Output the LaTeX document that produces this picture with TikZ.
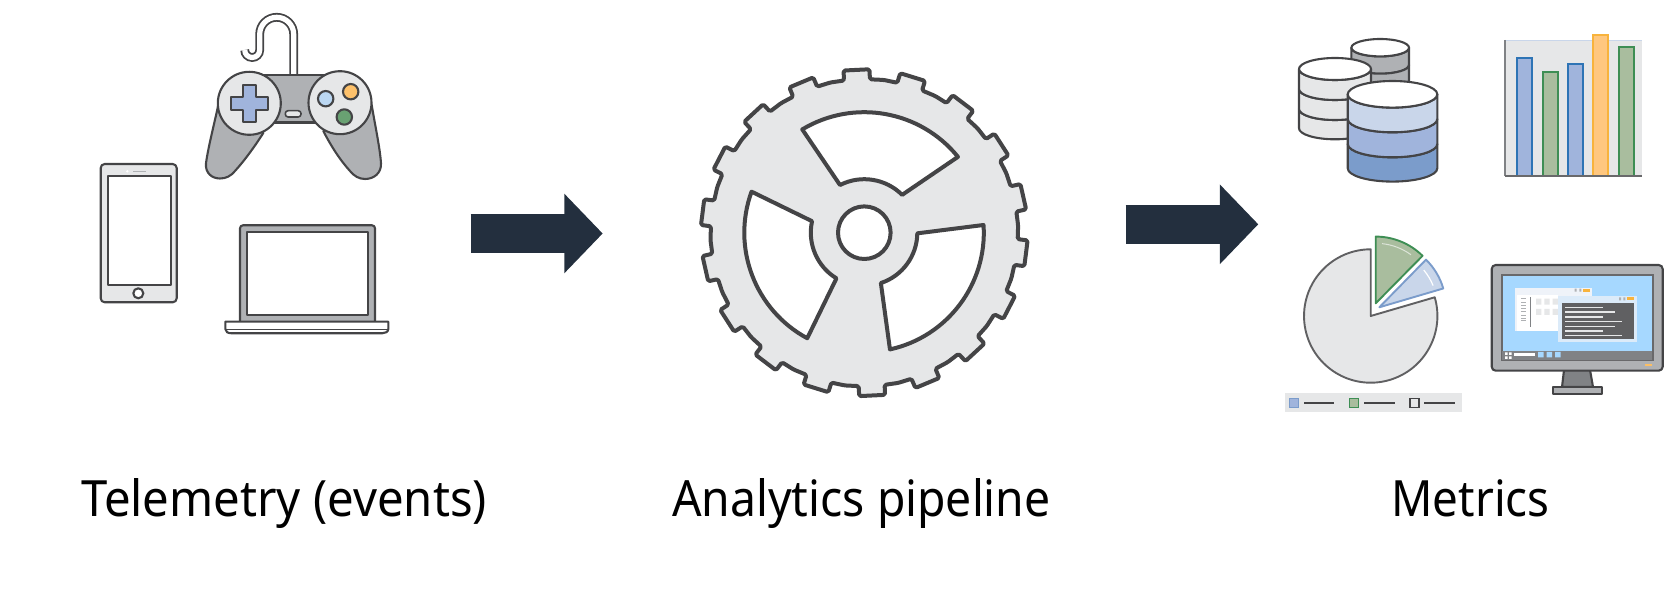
\documentclass[tikz,border=0pt]{standalone}
\usepackage{fontspec}
\setmainfont{Noto Sans}
\newfontface\capT[FakeStretch=0.945]{Noto Sans}
\newfontface\capA[FakeStretch=0.926]{Noto Sans}
\newfontface\capM[FakeStretch=0.914]{Noto Sans}
\usetikzlibrary{arrows.meta}
\definecolor{ink}{HTML}{444446}
\definecolor{lightgrey}{HTML}{E6E7E8}
\definecolor{midgrey}{HTML}{AFB1B4}
\definecolor{darkgrey}{HTML}{808285}
\definecolor{navy}{HTML}{232F3E}
\definecolor{blueA}{HTML}{C9D6EA}
\definecolor{blueB}{HTML}{A0B4DC}
\definecolor{blueC}{HTML}{7B9CCB}
\definecolor{blueline}{HTML}{2E74B5}
\definecolor{greenfill}{HTML}{A9BD9E}
\definecolor{greenline}{HTML}{3E8E54}
\definecolor{orangefill}{HTML}{FFC77F}
\definecolor{orangeline}{HTML}{F8B33C}
\definecolor{skyblue}{HTML}{A6D8FF}
\tikzset{
 icon/.style={draw=ink,line width=1.05pt,line join=round},
 gearline/.style={draw=ink,line width=2pt,line join=round},
 flow/.style={navy,line width=19.65pt,-{Triangle[length=19.2pt,width=38.65pt]}},
 caption/.style={anchor=base,text=black,inner sep=0pt},
}
\newcommand{\cylband}[6]{\draw[icon,fill=#6] (#1-#2,#4) -- (#1-#2,#5) arc[start angle=180,end angle=0,x radius=#2,y radius=#3] -- (#1+#2,#4) arc[start angle=0,end angle=180,x radius=#2,y radius=#3] -- cycle;}
\newcommand{\cyltop}[4]{\draw[icon,fill=white] (#1,#4) ellipse[x radius=#2,y radius=#3];}
\begin{document}
\begin{tikzpicture}[x=0.5pt,y=-0.5pt]
\useasboundingbox (0,0) rectangle (1680,598);
% phone
\draw[icon,fill=lightgrey,rounded corners=2pt] (100.7,164) rectangle (176.7,302.3);
\draw[icon,fill=white] (107.7,175.7) rectangle (170.7,285.3);
\draw[icon,fill=white] (138.3,293.3) circle[radius=5];
\draw[midgrey,line width=0.7pt] (133.3,171.3) -- (145.7,171.3);
\fill[white] (127.3,171.3) circle[radius=1.3];
% gamepad cable
\draw[ink,line width=0.9pt,double=white,double distance=2.6pt] (293.7,74) -- (293.7,34.3) arc[start angle=0,end angle=-180,radius=17] -- (259.7,50) arc[start angle=0,end angle=180,radius=7.5];
% gamepad grips and body
\draw[icon,fill=midgrey] (218.3,105) .. controls (214,125) and (208,148) .. (206,163.3) .. controls (205,173) and (212,178.5) .. (220,178.5) .. controls (226,178.5) and (231,176) .. (235,171) .. controls (245,160) and (255,146) .. (263.3,133) -- cycle;
\draw[icon,fill=midgrey] (371.7,105) .. controls (375,125) and (380,148) .. (381,163.3) .. controls (381.5,173) and (374,179) .. (365,179) .. controls (359,179) and (354,176) .. (350,171) .. controls (340,160) and (331,146) .. (323.3,131) -- cycle;
\draw[icon,fill=midgrey] (263,74.7) -- (327,74.7) -- (327,122.5) -- (263,122.5) -- cycle;
\draw[icon,fill=lightgrey] (249.3,103.3) circle[radius=31.5];
\draw[icon,fill=lightgrey] (340,102.7) circle[radius=31.5];
\draw[icon,fill=blueB] (243.3,85.3) -- (256,85.3) -- (256,97.3) -- (268.3,97.3) -- (268.3,109.7) -- (256,109.7) -- (256,121.7) -- (243.3,121.7) -- (243.3,109.7) -- (230.7,109.7) -- (230.7,97.3) -- (243.3,97.3) -- cycle;
\draw[icon,fill=blueA!60!skyblue] (325.7,98.7) circle[radius=7.7];
\draw[icon,fill=orangefill!70!orangeline] (350.7,91.7) circle[radius=7.7];
\draw[icon,fill=greenline!60!greenfill] (344.3,117) circle[radius=7.7];
\draw[icon,fill=lightgrey,rounded corners=1.4pt,line width=0.8pt] (285.3,110.7) rectangle (301,117);
% laptop
\draw[icon,fill=midgrey,rounded corners=1.5pt] (240,321.7) -- (240,225.3) -- (375,225.3) -- (375,321.7);
\draw[icon,fill=white] (246.7,232.3) rectangle (368.3,315);
\draw[icon,fill=white] (225.3,321.7) -- (388.3,321.7) -- (388.3,329) .. controls (388.3,332) and (385,333.3) .. (382,333.3) -- (232,333.3) .. controls (228,333.3) and (225.3,332) .. (225.3,329) -- cycle;
\draw[ink,line width=0.8pt] (226,329.7) -- (387.6,329.7);
% gear
\begin{scope}[shift={(864.3,232.7)}]
\draw[gearline,fill=lightgrey,rounded corners=0.8pt] (-97.6:153.5) \foreach \k in {0,...,17}{
  -- ({-97.6+20*\k}:153.5) -- ({-97.3+20*\k}:163.5) -- ({-88.2+20*\k}:163.5) -- ({-87.9+20*\k}:153.5) -- ({-82.7+20*\k}:154)
 } -- cycle;
\draw[gearline,fill=white] (-121:120.5) arc[start angle=-121,end angle=-39,radius=120.5] -- (-45:53.5) arc[start angle=-45,end angle=-117,radius=53.5] -- cycle;
\draw[gearline,fill=white] (-3.7:119.5) arc[start angle=-3.7,end angle=77.6,radius=119.5] -- (71.8:53) arc[start angle=71.8,end angle=0.7,radius=53] -- cycle;
\draw[gearline,fill=white] (200:120) arc[start angle=200,end angle=118.4,radius=120] -- (121.4:53.5) arc[start angle=121.4,end angle=192.4,radius=53.5] -- cycle;
\draw[gearline,fill=white] (0,0) circle[radius=26.3];
\end{scope}
% cylinders
\cylband{1380.2}{28.8}{8.7}{47.7}{65}{midgrey}
\cylband{1380.2}{28.8}{8.7}{65}{85}{midgrey}
\cyltop{1380.2}{28.8}{8.7}{47.7}
\cylband{1335}{36}{11}{109}{128.3}{lightgrey}
\cylband{1335}{36}{11}{89}{109}{lightgrey}
\cylband{1335}{36}{11}{69}{89}{lightgrey}
\cyltop{1335}{36}{11}{69}
\cylband{1392.5}{44.8}{13.3}{144}{168.3}{blueC}
\cylband{1392.5}{44.8}{13.3}{119}{144}{blueB}
\cylband{1392.5}{44.8}{13.3}{94.3}{119}{blueA}
\cyltop{1392.5}{44.8}{13.3}{94.3}
% bar chart
\fill[lightgrey] (1505,40) rectangle (1641.7,176);
\draw[blueA,line width=0.4pt] (1505,40) -- (1641.7,40);
\draw[darkgrey,line width=0.8pt] (1505,40) -- (1505,176);
\foreach \xa/\ya/\fc/\dc in {1517.3/57.7/blueB/blueline,1542.7/72/greenfill/greenline,1568/63.7/blueB/blueline,1593.3/35/orangefill/orangeline,1618.7/47/greenfill/greenline}
  \draw[draw=\dc,fill=\fc,line width=1pt] (\xa,175.7) -- (\xa,\ya) -- (\xa+15,\ya) -- (\xa+15,175.7);
\draw[ink!80,line width=0.9pt] (1505,176) -- (1641.7,176);
% pie chart
\begin{scope}[shift={(1370.7,316)}]
\draw[draw=ink!85,fill=lightgrey,line width=0.95pt,line join=round] (0,0) -- (-16.3:66.7) arc[start angle=-16.3,end angle=270,radius=66.7] -- cycle;
\end{scope}
\begin{scope}[shift={(1375.7,303.3)}]
\draw[draw=greenline,fill=greenfill,line width=0.95pt,line join=round] (0,0) -- (-90:66.7) arc[start angle=-90,end angle=-45.4,radius=66.7] -- cycle;
\draw[white,opacity=0.6,line width=0.5pt] (-84:60) arc[start angle=-84,end angle=-54,radius=60];
\end{scope}
\begin{scope}[shift={(1379.3,307.3)}]
\draw[draw=blueC,fill=blueA,line width=0.95pt,line join=round] (0,0) -- (-45.6:66.7) arc[start angle=-45.6,end angle=-16.4,radius=66.7] -- cycle;
\draw[white,line width=0.6pt] (-40:58) arc[start angle=-40,end angle=-22,radius=58];
\end{scope}
% legend
\fill[lightgrey] (1285,393.3) rectangle (1462.3,411.7);
\draw[draw=blueC,fill=blueB,line width=0.9pt] (1289.5,398.5) rectangle (1298.5,407.5);
\draw[draw=greenline,fill=greenfill,line width=0.9pt] (1349.5,398.5) rectangle (1358.5,407.5);
\draw[draw=ink,fill=lightgrey,line width=0.9pt] (1409.8,398.5) rectangle (1418.8,407.5);
\draw[ink,line width=0.6pt] (1304,403) -- (1334.3,403) (1364.3,403) -- (1394.7,403) (1424.3,403) -- (1455,403);
% monitor
\draw[icon,fill=darkgrey] (1564,370) -- (1590,370) -- (1593,387) -- (1562,387) -- cycle;
\draw[icon,fill=midgrey] (1552.7,386.7) rectangle (1601.7,394);
\draw[icon,fill=midgrey,rounded corners=2pt] (1491.7,265) rectangle (1662.7,370.7);
\draw[draw=ink!80,fill=skyblue,line width=0.8pt] (1501.7,275) rectangle (1652.7,360.7);
\fill[darkgrey] (1502.2,350.7) rectangle (1652.2,360.2);
\fill[white] (1505,352.5) rectangle (1507.5,355) (1509,352.5) rectangle (1511.5,355) (1505,356.5) rectangle (1507.5,359) (1509,356.5) rectangle (1511.5,359);
\fill[white] (1513.5,353.5) rectangle (1534.5,356.2);
\fill[skyblue] (1538,352) rectangle (1543.5,357.5) (1546.5,352) rectangle (1552,357.5) (1555,352) rectangle (1560.5,357.5);
\fill[blueA!30!white] (1515,288.3) rectangle (1592.3,331);
\fill[white] (1517.3,295) rectangle (1558.3,331);
\foreach \ly in {298.3,301.6,304.9,308.2,311.5,314.8,318.1,320}
  \fill[midgrey] (1520.7,\ly) rectangle (1526,\ly+1);
\fill[darkgrey] (1530.2,297.5) rectangle (1531.2,327.5);
\foreach \qx in {1536,1544.3,1552.7}
  \fill[lightgrey] (\qx,298.7) rectangle (\qx+5.3,304.7) (\qx,309) rectangle (\qx+5.3,315);
\fill[midgrey] (1574.7,288.7) rectangle (1576.7,291.7) (1579.3,288.7) rectangle (1581.3,291.7);
\fill[orangeline] (1583,288.7) rectangle (1590,291.7);
\fill[blueA!55!skyblue!50!white] (1558.3,296) rectangle (1636.7,341.7);
\fill[midgrey] (1619,297.5) rectangle (1621,300.5) (1623.3,297.5) rectangle (1625.3,300.5);
\fill[orangeline] (1627,297.5) rectangle (1634,300.5);
\fill[ink!85!white] (1561.7,303.3) rectangle (1634.3,339.3);
\foreach \ly/\lx in {307.3/1603.3,312/1615,317/1603.3,321.3/1621.7,326.3/1615,331/1603.3,335.7/1621.7}
  \draw[lightgrey,line width=0.55pt] (1565.3,\ly) -- (\lx,\ly);
\fill[orangefill!60!orangeline] (1645,364) rectangle (1652,366.5);
% flow arrows
\coordinate (flowAstart) at (470.7,233.5);
\coordinate (flowAend) at (602.7,233.5);
\coordinate (flowBstart) at (1125.7,224.3);
\coordinate (flowBend) at (1258.3,224.3);
\draw[flow] (flowAstart) -- (flowAend);
\draw[flow] (flowBstart) -- (flowBend);
% captions
\node[caption,font=\fontsize{25}{30}\selectfont\capT] (telemetry) at (284,516) {Telemetry (events)};
\node[caption,font=\fontsize{25}{30}\selectfont\capA] (analytics) at (861.4,516) {Analytics pipeline};
\node[caption,font=\fontsize{25}{30}\selectfont\capM] (metrics) at (1470.5,516) {Metrics};
\end{tikzpicture}
\end{document}
